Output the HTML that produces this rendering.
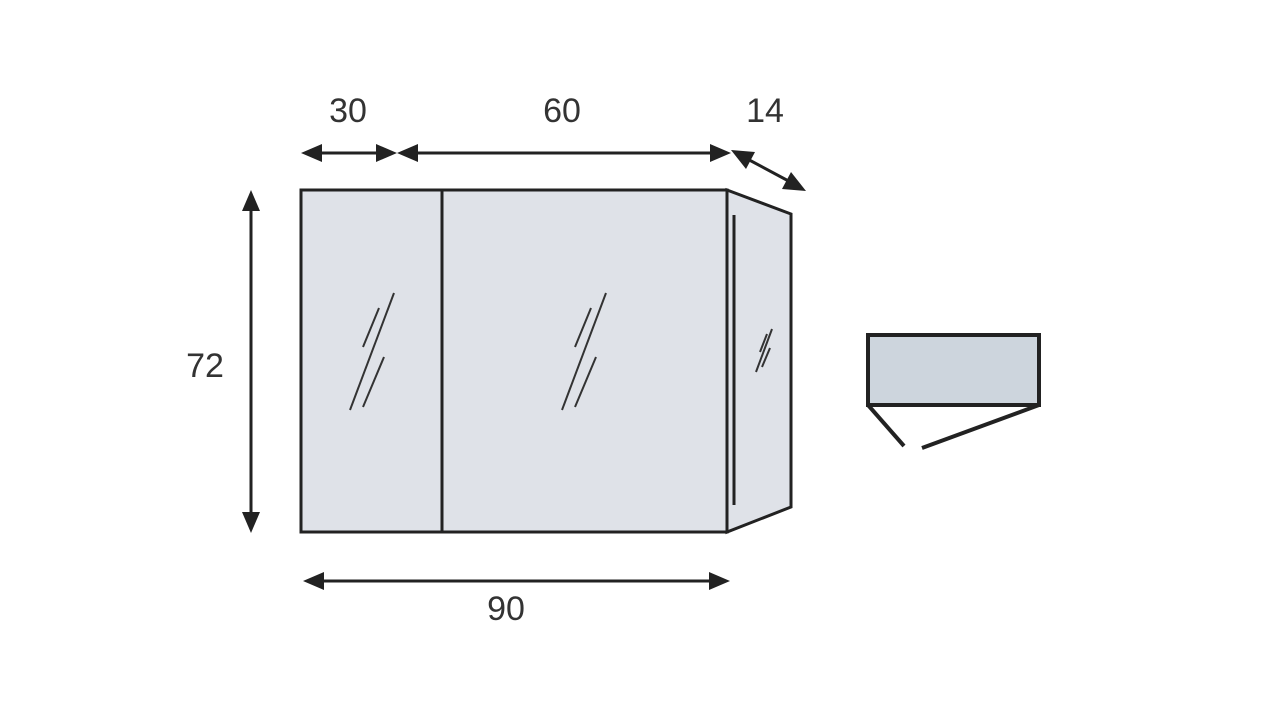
<!DOCTYPE html>
<html><head><style>body{margin:0;background:#fff}svg{display:block}text{font-family:"Liberation Sans",sans-serif;font-size:34px;fill:#333}</style></head>
<body>
<svg width="1280" height="720" viewBox="0 0 1280 720">
<defs>
<g id="g"><line x1="394" y1="293" x2="350" y2="410"/><line x1="379" y1="308" x2="363" y2="347"/><line x1="384" y1="357" x2="363" y2="407"/></g>
</defs>
<g stroke="#222" stroke-width="3" fill="#dfe2e8">
<rect x="301" y="190" width="426" height="342"/>
<polygon points="727,190 791,214 791,507 727,532"/>
<line x1="442" y1="190" x2="442" y2="532"/>
<line x1="734" y1="215" x2="734" y2="505"/>
<rect x="868" y="335" width="171" height="70" fill="#cdd5dd" stroke-width="4"/>
<polyline points="868,405 904,446" fill="none" stroke-width="4"/>
<polyline points="1039,405 922,448" fill="none" stroke-width="4"/>
</g>
<g stroke="#333" stroke-width="2">
<use href="#g"/><use href="#g" transform="translate(212,0)"/>
<line x1="772" y1="329" x2="756" y2="372"/><line x1="767" y1="334" x2="760" y2="352"/><line x1="770" y1="348" x2="762" y2="367"/>
</g>
<g stroke="#222" stroke-width="3" fill="#222">
<line x1="310" y1="153" x2="390" y2="153"/>
<polygon points="301,153 322,144 322,162" stroke="none"/>
<polygon points="397,153 376,144 376,162" stroke="none"/>
<line x1="405" y1="153" x2="722" y2="153"/>
<polygon points="397,153 418,144 418,162" stroke="none"/>
<polygon points="731,153 710,144 710,162" stroke="none"/>
<line x1="740" y1="155" x2="796" y2="185"/>
<polygon points="731,150 755,152 746,169" stroke="none"/>
<polygon points="806,191 782,189 791,172" stroke="none"/>
<line x1="251" y1="200" x2="251" y2="522"/>
<polygon points="251,190 242,211 260,211" stroke="none"/>
<polygon points="251,533 242,512 260,512" stroke="none"/>
<line x1="312" y1="581" x2="720" y2="581"/>
<polygon points="303,581 324,572 324,590" stroke="none"/>
<polygon points="730,581 709,572 709,590" stroke="none"/>
</g>
<text x="348" y="122" text-anchor="middle">30</text>
<text x="562" y="122" text-anchor="middle">60</text>
<text x="765" y="122" text-anchor="middle">14</text>
<text x="205" y="377" text-anchor="middle">72</text>
<text x="506" y="620" text-anchor="middle">90</text>
</svg>
</body></html>
